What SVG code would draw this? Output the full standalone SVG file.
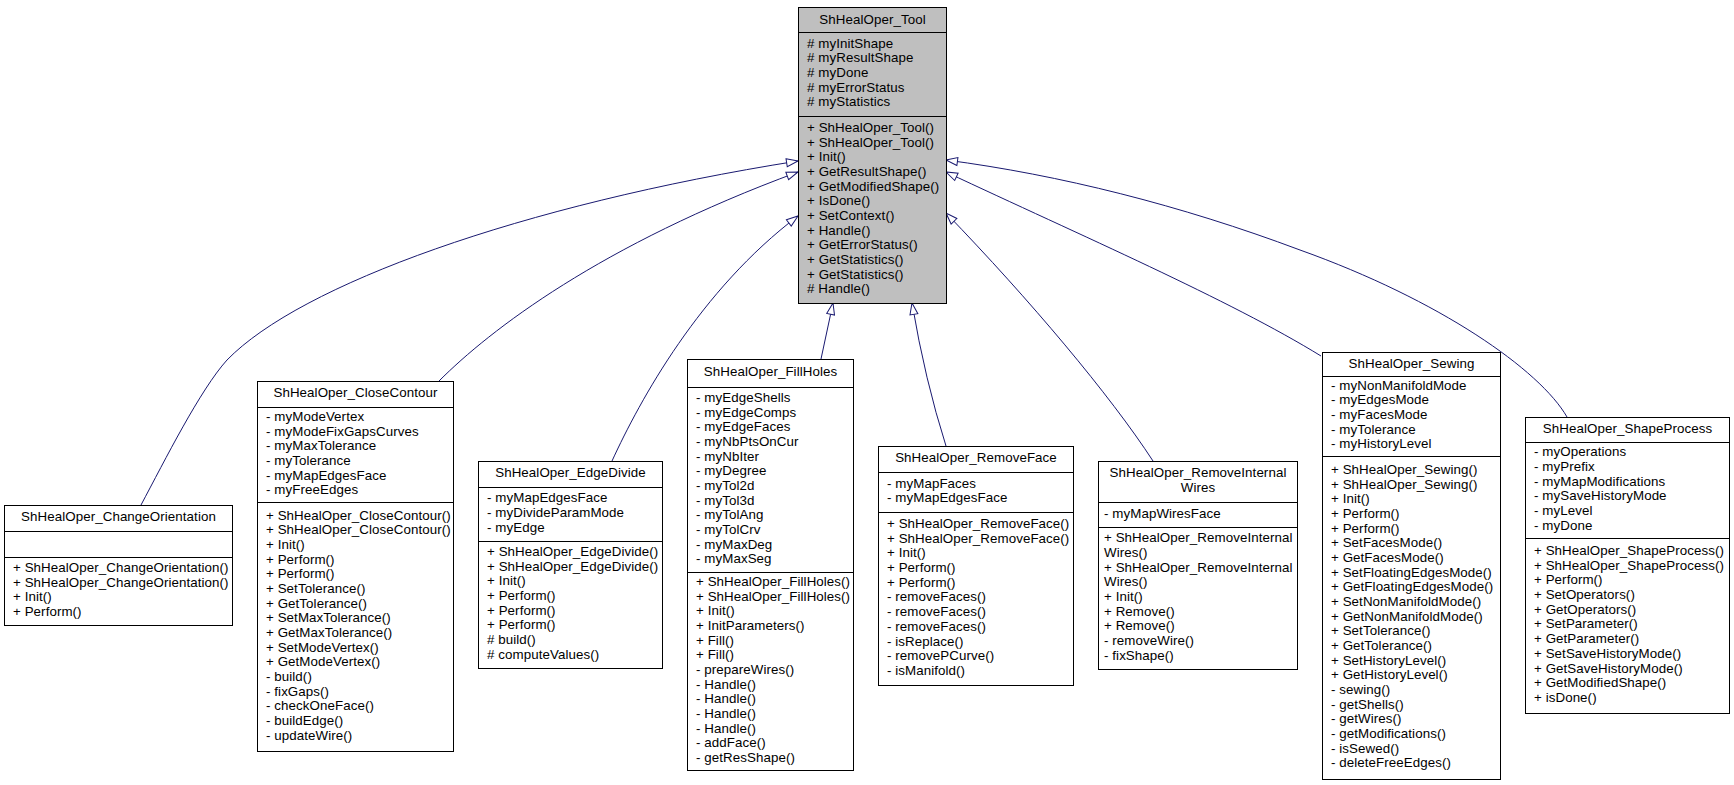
<svg xmlns="http://www.w3.org/2000/svg" width="1734" height="785" viewBox="0 0 1734 785">
<style>
.bg{fill:#ffffff}
.box{fill:#ffffff;stroke:#000000;stroke-width:1}
.base{fill:#bfbfbf;stroke:#000000;stroke-width:1}
.div{stroke:#000000;stroke-width:1}
text{font-family:"Liberation Sans",Arial,Helvetica,sans-serif;font-size:13.33px;letter-spacing:0.08px;fill:#000000}
.t{text-anchor:middle}
.edge{fill:none;stroke:#191970;stroke-width:1}
</style>
<defs>
<marker id="inh" markerUnits="userSpaceOnUse" viewBox="0 0 14 10" markerWidth="14" markerHeight="10" refX="12.5" refY="5" orient="auto">
<path d="M1,1 L12.5,5 L1,9 Z" fill="#ffffff" stroke="#191970" stroke-width="1"/>
</marker>
</defs>
<rect class="bg" x="0" y="0" width="1734" height="785"/>

<g id="connectors">
<path class="edge" marker-end="url(#inh)" d="M141,505 C165,460 200,390 227,360 C300,285 520,205 798,161"/>
<path class="edge" marker-end="url(#inh)" d="M439,381 C490,330 600,245 798,172"/>
<path class="edge" marker-end="url(#inh)" d="M612,461 C640,400 700,290 798,216"/>
<path class="edge" marker-end="url(#inh)" d="M821,359 L833,303"/>
<path class="edge" marker-end="url(#inh)" d="M946,446 Q925,380 912,303"/>
<path class="edge" marker-end="url(#inh)" d="M1153,461 C1110,395 1030,300 946,213"/>
<path class="edge" marker-end="url(#inh)" d="M1321,356 C1230,300 1080,235 946,172"/>
<path class="edge" marker-end="url(#inh)" d="M1567,417 C1540,370 1440,300 1300,250 C1180,205 1060,175 946,160"/>
</g>

<g id="ShHealOper_Tool">
<rect class="base" x="798.5" y="7.5" width="148" height="296"/>
<line class="div" x1="798.5" y1="32.5" x2="946.5" y2="32.5"/>
<line class="div" x1="798.5" y1="116.5" x2="946.5" y2="116.5"/>
<text class="t" x="872.5" y="24">ShHealOper_Tool</text>
<text x="807" y="47.6"># myInitShape</text>
<text x="807" y="62.3"># myResultShape</text>
<text x="807" y="77"># myDone</text>
<text x="807" y="91.6"># myErrorStatus</text>
<text x="807" y="106.3"># myStatistics</text>
<text x="807" y="131.8">+ ShHealOper_Tool()</text>
<text x="807" y="146.5">+ ShHealOper_Tool()</text>
<text x="807" y="161.1">+ Init()</text>
<text x="807" y="175.8">+ GetResultShape()</text>
<text x="807" y="190.5">+ GetModifiedShape()</text>
<text x="807" y="205.2">+ IsDone()</text>
<text x="807" y="219.8">+ SetContext()</text>
<text x="807" y="234.5">+ Handle()</text>
<text x="807" y="249.2">+ GetErrorStatus()</text>
<text x="807" y="263.8">+ GetStatistics()</text>
<text x="807" y="278.5">+ GetStatistics()</text>
<text x="807" y="293.2"># Handle()</text>
</g>

<g id="ShHealOper_ChangeOrientation">
<rect class="box" x="4.5" y="505.5" width="228" height="120"/>
<line class="div" x1="4.5" y1="531.5" x2="232.5" y2="531.5"/>
<line class="div" x1="4.5" y1="557.5" x2="232.5" y2="557.5"/>
<text class="t" x="118.5" y="521">ShHealOper_ChangeOrientation</text>
<text x="13" y="572">+ ShHealOper_ChangeOrientation()</text>
<text x="13" y="586.7">+ ShHealOper_ChangeOrientation()</text>
<text x="13" y="601.3">+ Init()</text>
<text x="13" y="616">+ Perform()</text>
</g>

<g id="ShHealOper_CloseContour">
<rect class="box" x="257.5" y="381.5" width="196" height="370"/>
<line class="div" x1="257.5" y1="407.5" x2="453.5" y2="407.5"/>
<line class="div" x1="257.5" y1="502.5" x2="453.5" y2="502.5"/>
<text class="t" x="355.5" y="397">ShHealOper_CloseContour</text>
<text x="266" y="420.8">- myModeVertex</text>
<text x="266" y="435.5">- myModeFixGapsCurves</text>
<text x="266" y="450.1">- myMaxTolerance</text>
<text x="266" y="464.8">- myTolerance</text>
<text x="266" y="479.5">- myMapEdgesFace</text>
<text x="266" y="494.2">- myFreeEdges</text>
<text x="266" y="519.5">+ ShHealOper_CloseContour()</text>
<text x="266" y="534.2">+ ShHealOper_CloseContour()</text>
<text x="266" y="548.8">+ Init()</text>
<text x="266" y="563.5">+ Perform()</text>
<text x="266" y="578.2">+ Perform()</text>
<text x="266" y="592.8">+ SetTolerance()</text>
<text x="266" y="607.5">+ GetTolerance()</text>
<text x="266" y="622.2">+ SetMaxTolerance()</text>
<text x="266" y="636.9">+ GetMaxTolerance()</text>
<text x="266" y="651.5">+ SetModeVertex()</text>
<text x="266" y="666.2">+ GetModeVertex()</text>
<text x="266" y="680.9">- build()</text>
<text x="266" y="695.5">- fixGaps()</text>
<text x="266" y="710.2">- checkOneFace()</text>
<text x="266" y="724.9">- buildEdge()</text>
<text x="266" y="739.5">- updateWire()</text>
</g>

<g id="ShHealOper_EdgeDivide">
<rect class="box" x="478.5" y="461.5" width="184" height="207"/>
<line class="div" x1="478.5" y1="487.5" x2="662.5" y2="487.5"/>
<line class="div" x1="478.5" y1="541.5" x2="662.5" y2="541.5"/>
<text class="t" x="570.5" y="477">ShHealOper_EdgeDivide</text>
<text x="487" y="502.3">- myMapEdgesFace</text>
<text x="487" y="517">- myDivideParamMode</text>
<text x="487" y="531.6">- myEdge</text>
<text x="487" y="556.1">+ ShHealOper_EdgeDivide()</text>
<text x="487" y="570.8">+ ShHealOper_EdgeDivide()</text>
<text x="487" y="585.4">+ Init()</text>
<text x="487" y="600.1">+ Perform()</text>
<text x="487" y="614.8">+ Perform()</text>
<text x="487" y="629.4">+ Perform()</text>
<text x="487" y="644.1"># build()</text>
<text x="487" y="658.8"># computeValues()</text>
</g>

<g id="ShHealOper_FillHoles">
<rect class="box" x="687.5" y="359.5" width="166" height="411"/>
<line class="div" x1="687.5" y1="387.5" x2="853.5" y2="387.5"/>
<line class="div" x1="687.5" y1="572.5" x2="853.5" y2="572.5"/>
<text class="t" x="770.5" y="376">ShHealOper_FillHoles</text>
<text x="696" y="401.8">- myEdgeShells</text>
<text x="696" y="416.5">- myEdgeComps</text>
<text x="696" y="431.1">- myEdgeFaces</text>
<text x="696" y="445.8">- myNbPtsOnCur</text>
<text x="696" y="460.5">- myNbIter</text>
<text x="696" y="475.2">- myDegree</text>
<text x="696" y="489.8">- myTol2d</text>
<text x="696" y="504.5">- myTol3d</text>
<text x="696" y="519.2">- myTolAng</text>
<text x="696" y="533.8">- myTolCrv</text>
<text x="696" y="548.5">- myMaxDeg</text>
<text x="696" y="563.2">- myMaxSeg</text>
<text x="696" y="586">+ ShHealOper_FillHoles()</text>
<text x="696" y="600.7">+ ShHealOper_FillHoles()</text>
<text x="696" y="615.3">+ Init()</text>
<text x="696" y="630">+ InitParameters()</text>
<text x="696" y="644.7">+ Fill()</text>
<text x="696" y="659.4">+ Fill()</text>
<text x="696" y="674">- prepareWires()</text>
<text x="696" y="688.7">- Handle()</text>
<text x="696" y="703.4">- Handle()</text>
<text x="696" y="718">- Handle()</text>
<text x="696" y="732.7">- Handle()</text>
<text x="696" y="747.4">- addFace()</text>
<text x="696" y="762">- getResShape()</text>
</g>

<g id="ShHealOper_RemoveFace">
<rect class="box" x="878.5" y="446.5" width="195" height="239"/>
<line class="div" x1="878.5" y1="472.5" x2="1073.5" y2="472.5"/>
<line class="div" x1="878.5" y1="512.5" x2="1073.5" y2="512.5"/>
<text class="t" x="976" y="462">ShHealOper_RemoveFace</text>
<text x="887" y="487.6">- myMapFaces</text>
<text x="887" y="502.3">- myMapEdgesFace</text>
<text x="887" y="528.1">+ ShHealOper_RemoveFace()</text>
<text x="887" y="542.8">+ ShHealOper_RemoveFace()</text>
<text x="887" y="557.4">+ Init()</text>
<text x="887" y="572.1">+ Perform()</text>
<text x="887" y="586.8">+ Perform()</text>
<text x="887" y="601.4">- removeFaces()</text>
<text x="887" y="616.1">- removeFaces()</text>
<text x="887" y="630.8">- removeFaces()</text>
<text x="887" y="645.5">- isReplace()</text>
<text x="887" y="660.1">- removePCurve()</text>
<text x="887" y="674.8">- isManifold()</text>
</g>

<g id="ShHealOper_RemoveInternalWires">
<rect class="box" x="1098.5" y="461.5" width="199" height="208"/>
<line class="div" x1="1098.5" y1="502.5" x2="1297.5" y2="502.5"/>
<line class="div" x1="1098.5" y1="527.5" x2="1297.5" y2="527.5"/>
<text class="t" x="1198" y="477.1">ShHealOper_RemoveInternal</text>
<text class="t" x="1198" y="491.8">Wires</text>
<text x="1104" y="517.5">- myMapWiresFace</text>
<text x="1104" y="542.3">+ ShHealOper_RemoveInternal</text>
<text x="1104" y="557">Wires()</text>
<text x="1104" y="571.6">+ ShHealOper_RemoveInternal</text>
<text x="1104" y="586.3">Wires()</text>
<text x="1104" y="601">+ Init()</text>
<text x="1104" y="615.7">+ Remove()</text>
<text x="1104" y="630.3">+ Remove()</text>
<text x="1104" y="645">- removeWire()</text>
<text x="1104" y="659.7">- fixShape()</text>
</g>

<g id="ShHealOper_Sewing">
<rect class="box" x="1322.5" y="352.5" width="178" height="427"/>
<line class="div" x1="1322.5" y1="376.5" x2="1500.5" y2="376.5"/>
<line class="div" x1="1322.5" y1="456.5" x2="1500.5" y2="456.5"/>
<text class="t" x="1411.5" y="367.5">ShHealOper_Sewing</text>
<text x="1331" y="389.6">- myNonManifoldMode</text>
<text x="1331" y="404.3">- myEdgesMode</text>
<text x="1331" y="418.9">- myFacesMode</text>
<text x="1331" y="433.6">- myTolerance</text>
<text x="1331" y="448.3">- myHistoryLevel</text>
<text x="1331" y="473.8">+ ShHealOper_Sewing()</text>
<text x="1331" y="488.5">+ ShHealOper_Sewing()</text>
<text x="1331" y="503.1">+ Init()</text>
<text x="1331" y="517.8">+ Perform()</text>
<text x="1331" y="532.5">+ Perform()</text>
<text x="1331" y="547.2">+ SetFacesMode()</text>
<text x="1331" y="561.8">+ GetFacesMode()</text>
<text x="1331" y="576.5">+ SetFloatingEdgesMode()</text>
<text x="1331" y="591.2">+ GetFloatingEdgesMode()</text>
<text x="1331" y="605.8">+ SetNonManifoldMode()</text>
<text x="1331" y="620.5">+ GetNonManifoldMode()</text>
<text x="1331" y="635.2">+ SetTolerance()</text>
<text x="1331" y="649.8">+ GetTolerance()</text>
<text x="1331" y="664.5">+ SetHistoryLevel()</text>
<text x="1331" y="679.2">+ GetHistoryLevel()</text>
<text x="1331" y="693.9">- sewing()</text>
<text x="1331" y="708.5">- getShells()</text>
<text x="1331" y="723.2">- getWires()</text>
<text x="1331" y="737.9">- getModifications()</text>
<text x="1331" y="752.5">- isSewed()</text>
<text x="1331" y="767.2">- deleteFreeEdges()</text>
</g>

<g id="ShHealOper_ShapeProcess">
<rect class="box" x="1525.5" y="417.5" width="204" height="296"/>
<line class="div" x1="1525.5" y1="442.5" x2="1729.5" y2="442.5"/>
<line class="div" x1="1525.5" y1="538.5" x2="1729.5" y2="538.5"/>
<text class="t" x="1627.5" y="432.5">ShHealOper_ShapeProcess</text>
<text x="1534" y="456.3">- myOperations</text>
<text x="1534" y="471">- myPrefix</text>
<text x="1534" y="485.6">- myMapModifications</text>
<text x="1534" y="500.3">- mySaveHistoryMode</text>
<text x="1534" y="515">- myLevel</text>
<text x="1534" y="529.6">- myDone</text>
<text x="1534" y="555.1">+ ShHealOper_ShapeProcess()</text>
<text x="1534" y="569.8">+ ShHealOper_ShapeProcess()</text>
<text x="1534" y="584.4">+ Perform()</text>
<text x="1534" y="599.1">+ SetOperators()</text>
<text x="1534" y="613.8">+ GetOperators()</text>
<text x="1534" y="628.4">+ SetParameter()</text>
<text x="1534" y="643.1">+ GetParameter()</text>
<text x="1534" y="657.8">+ SetSaveHistoryMode()</text>
<text x="1534" y="672.5">+ GetSaveHistoryMode()</text>
<text x="1534" y="687.1">+ GetModifiedShape()</text>
<text x="1534" y="701.8">+ isDone()</text>
</g>
</svg>
